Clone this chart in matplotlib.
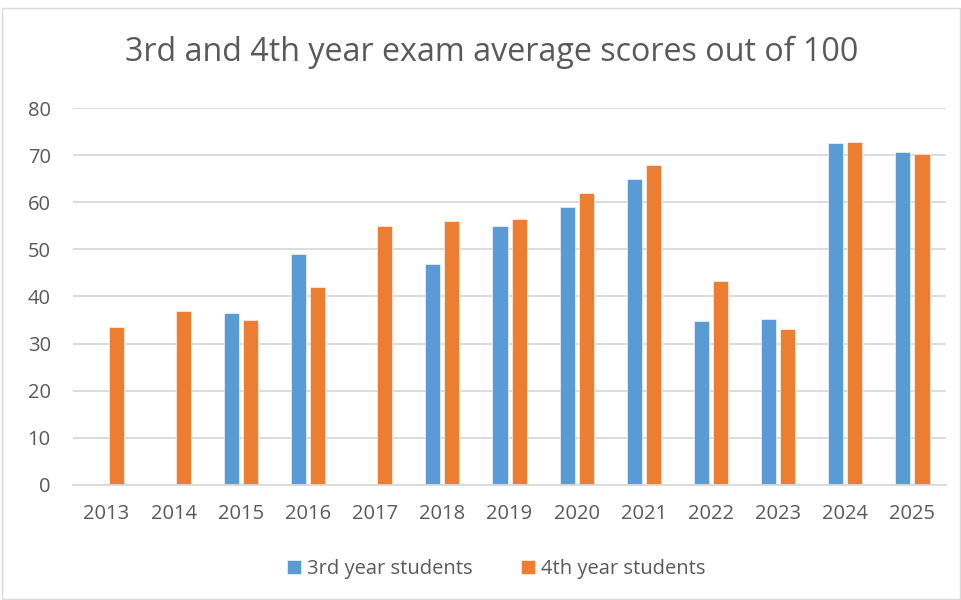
import numpy as np
import matplotlib.pyplot as plt
from matplotlib.patches import Rectangle

years = ["2013", "2014", "2015", "2016", "2017", "2018", "2019",
         "2020", "2021", "2022", "2023", "2024", "2025"]
third_year = [0, 0, 36.5, 49, 0, 47, 55, 59, 65, 34.7, 35.3, 72.6, 70.6]
fourth_year = [33.5, 37, 35, 42, 55, 56, 56.5, 62, 68, 43.3, 33.2, 72.8, 70.3]

blue = "#5B9BD5"
orange = "#ED7D31"
grey_text = "#595959"
grid = "#D9D9D9"

plt.rcParams['font.family'] = ['Open Sans', 'DejaVu Sans']

fig = plt.figure(figsize=(9.62, 6.0), dpi=100)
ax = fig.add_axes([0.0759, 0.1917, 0.9075, 0.6283])

x = np.arange(len(years))
w = 0.225
gap = 0.06
ax.bar(x - (w + gap) / 2, third_year, w, color=blue, label="3rd year students",
       edgecolor="white", linewidth=0.4)
ax.bar(x + (w + gap) / 2, fourth_year, w, color=orange, label="4th year students",
       edgecolor="white", linewidth=0.4)

ax.set_xlim(-0.5, len(years) - 0.5)
ax.set_ylim(0, 80)
ax.set_yticks(range(0, 81, 10))
ax.set_xticks(x)
ax.set_xticklabels(years)
ax.yaxis.grid(True, color=grid, linewidth=1.3)
ax.set_axisbelow(True)
for s in ["top", "right", "left"]:
    ax.spines[s].set_visible(False)
ax.spines["bottom"].set_color(grid)
ax.spines["bottom"].set_linewidth(1.3)
ax.tick_params(axis="both", length=0, colors=grey_text, labelsize=14.5)
ax.tick_params(axis="y", pad=16)
ax.tick_params(axis="x", pad=14)

fig.text(0.511, 0.913, "3rd and 4th year exam average scores out of 100",
         ha="center", va="center", fontsize=23.2, color=grey_text)

ax.legend(loc="center", bbox_to_anchor=(0.485, -0.223), ncol=2, frameon=False,
          fontsize=14.5, labelcolor=grey_text, handlelength=0.7, handleheight=0.7,
          columnspacing=2.4, handletextpad=0.3)

fig.patches.append(Rectangle((0.002, 0.002), 0.996, 0.985, transform=fig.transFigure,
                             fill=False, edgecolor=grid, linewidth=1))

fig.savefig("out.png", dpi=100, facecolor="white")
